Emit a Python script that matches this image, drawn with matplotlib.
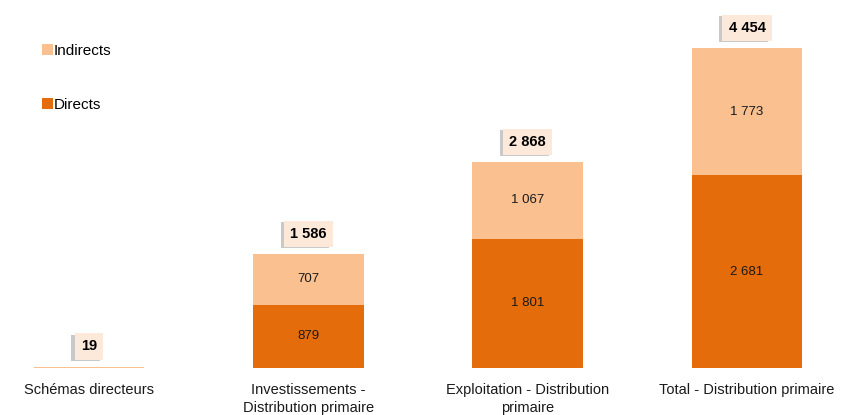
import numpy as np
import matplotlib.pyplot as plt
from matplotlib import patheffects

plt.rcParams['font.family'] = ['Liberation Sans', 'DejaVu Sans']

categories = ['Schémas directeurs', 'Investissements -\nDistribution primaire',
              'Exploitation - Distribution\nprimaire', 'Total - Distribution primaire']
directs = [0, 879, 1801, 2681]
indirects = [19, 707, 1067, 1773]
totals = [19, 1586, 2868, 4454]

c_dir = '#E46C0A'
c_ind = '#FAC090'

fig = plt.figure(figsize=(8.53, 4.15), dpi=100)
ax = fig.add_axes([0, 0.1133, 1, 0.8867])

x = np.arange(len(categories))
w = 0.505
b1 = ax.bar(x, directs, w, color=c_dir, label='Directs')
b2 = ax.bar(x, indirects, w, bottom=directs, color=c_ind, label='Indirects')

#etiquettes des segments
for i in range(len(x)):
    if directs[i] > 100:
        ax.text(x[i], directs[i] / 2, f'{directs[i]:,}'.replace(',', ' '),
                ha='center', va='center', fontsize=9.5, color='#1a1a1a')
    if indirects[i] > 100:
        ax.text(x[i], directs[i] + indirects[i] / 2, f'{indirects[i]:,}'.replace(',', ' '),
                ha='center', va='center', fontsize=9.5, color='#1a1a1a')

#totaux avec cadre et ombre
for i in range(len(x)):
    t = ax.annotate(f'{totals[i]:,}'.replace(',', ' '), (x[i], totals[i]),
                    xytext=(0, 14.5), textcoords='offset points',
                    ha='center', va='center', fontsize=10.5, fontweight='bold',
                    bbox=dict(boxstyle='square,pad=0.42', fc='#FDE9D9', ec='none'))
    t.get_bbox_patch().set_path_effects([
        patheffects.withSimplePatchShadow(offset=(-2.5, -1), shadow_rgbFace='#666666', alpha=0.35),
        patheffects.Normal()])

ax.set_xlim(-0.406, 3.483)
ax.set_ylim(0, 5122)
ax.set_xticks(x)
ax.set_xticklabels(categories, fontsize=10.5, color='#1a1a1a', linespacing=1.4)
ax.tick_params(axis='x', length=0, pad=10.5)
ax.set_yticks([])
for s in ax.spines.values():
    s.set_visible(False)

leg = ax.legend(handles=[b2, b1], loc='upper left', bbox_to_anchor=(0.033, 0.918),
                frameon=False, fontsize=11, handlelength=0.7, handleheight=0.7,
                handletextpad=0.05, labelspacing=2.6)

fig.savefig('out.png', dpi=100)
